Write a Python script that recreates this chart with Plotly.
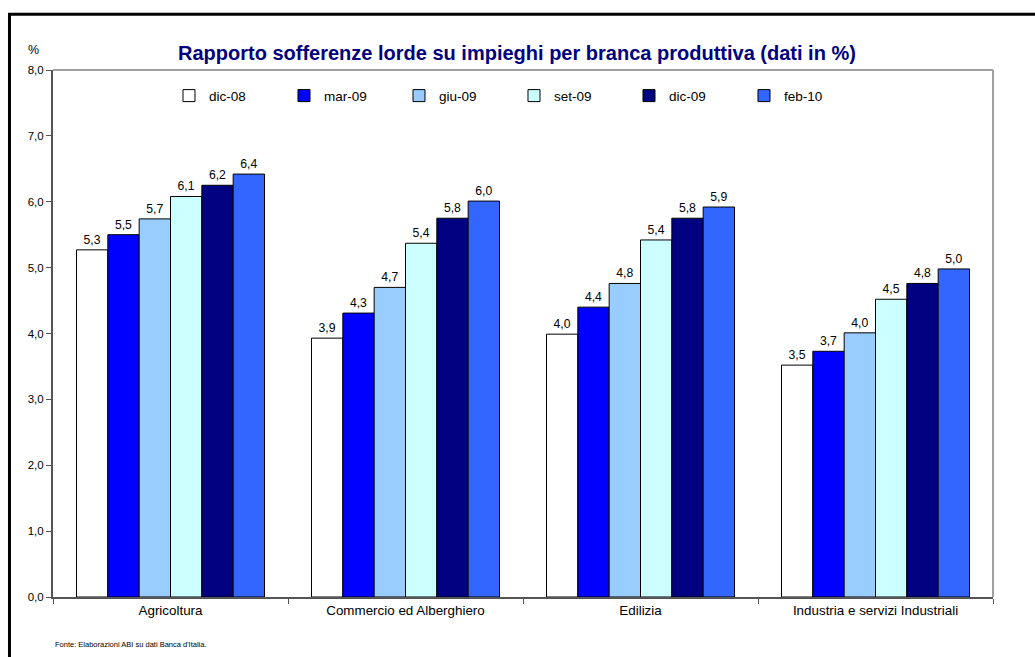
import plotly.graph_objects as go

categories = ["Agricoltura", "Commercio ed Alberghiero", "Edilizia", "Industria e servizi Industriali"]
series_names = ["dic-08", "mar-09", "giu-09", "set-09", "dic-09", "feb-10"]
dic08 = [5.27, 3.93, 3.99, 3.52]
mar09 = [5.50, 4.31, 4.40, 3.73]
giu09 = [5.74, 4.70, 4.76, 4.01]
set09 = [6.08, 5.37, 5.42, 4.52]
dic09 = [6.25, 5.75, 5.75, 4.76]
feb10 = [6.42, 6.01, 5.92, 4.98]
colors = ["#FFFFFF", "#0000FF", "#99CCFF", "#CCFFFF", "#000080", "#3366FF"]
y_ticks = [0, 1, 2, 3, 4, 5, 6, 7, 8]

series_values = [dic08, mar09, giu09, set09, dic09, feb10]

FONT = "Liberation Sans, Arial, sans-serif"

fig = go.Figure()
for name, vals, col in zip(series_names, series_values, colors):
    fig.add_trace(go.Bar(
        name=name, x=categories, y=vals,
        marker=dict(color=col, line=dict(color="#000000", width=1)),
        text=[f"{v:.1f}".replace(".", ",") for v in vals],
        textposition="outside", cliponaxis=False,
        textfont=dict(family=FONT, size=12.2, color="#000000"),
    ))

fig.update_layout(
    width=1035, height=657,
    margin=dict(l=53, r=42, t=70, b=60),
    paper_bgcolor="white", plot_bgcolor="white",
    barmode="group", bargap=0.2, bargroupgap=0,
    separators=",.",
    font=dict(family=FONT, size=11, color="#000000"),
    showlegend=True,
    legend=dict(orientation="h", x=0.1234, y=0.951, xanchor="left", yanchor="middle",
                entrywidth=70, entrywidthmode="pixels", itemwidth=30,
                font=dict(family=FONT, size=13.5, color="#000000"),
                bgcolor="rgba(0,0,0,0)", traceorder="normal"),
)
fig.update_xaxes(
    showline=True, linecolor="#555555", linewidth=2, mirror=False,
    ticks="outside", tickson="boundaries", ticklen=5, tickcolor="#555555",
    tickfont=dict(family=FONT, size=13.4, color="#000000"), showgrid=False,
)
fig.update_yaxes(
    range=[0, 8], tickvals=y_ticks, tickformat=".1f",
    showline=True, linecolor="#555555", linewidth=2,
    ticks="outside", ticklen=5, tickcolor="#555555",
    tickfont=dict(family=FONT, size=11.5, color="#000000"), showgrid=False,
    zeroline=False,
)
# plot area frame (top and right, gray)
fig.add_shape(type="line", xref="paper", yref="paper", x0=0, x1=1, y0=1, y1=1,
              line=dict(color="#A0A0A0", width=2))
fig.add_shape(type="line", xref="paper", yref="paper", x0=1, x1=1, y0=0, y1=1,
              line=dict(color="#A0A0A0", width=2))
# outer chart border
fig.add_shape(type="rect", xref="paper", yref="paper",
              x0=-0.0463, x1=1.2, y0=-0.2, y1=1.106,
              line=dict(color="#000000", width=3), fillcolor="rgba(0,0,0,0)", layer="above")

fig.add_annotation(text="<b>Rapporto sofferenze lorde su impieghi per branca produttiva (dati in %)</b>",
                   xref="paper", yref="paper", x=0.494, y=1.032, xanchor="center", yanchor="middle",
                   showarrow=False, font=dict(family=FONT, size=20, color="#000080"))
fig.add_annotation(text="%", xref="paper", yref="paper", x=-0.021, y=1.038,
                   xanchor="center", yanchor="middle", showarrow=False,
                   font=dict(family=FONT, size=12.5, color="#000000"))
fig.add_annotation(text="Fonte: Elaborazioni ABI su dati Banca d'Italia.", xref="paper", yref="paper",
                   x=0.0, y=-0.09, xanchor="left", yanchor="middle", showarrow=False,
                   font=dict(family=FONT, size=7.5, color="#000000"))

fig.write_html("out.html")
